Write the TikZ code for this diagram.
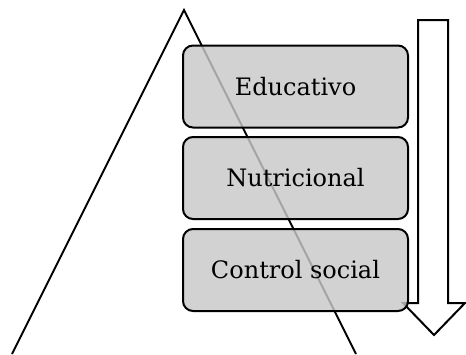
\documentclass[tikz,border=0pt]{standalone}
\usepackage{fontspec}
\setmainfont{DejaVu Serif}
\definecolor{boxgray}{RGB}{200,200,200}
\tikzset{
  levelbox/.style={draw=black, line width=2pt, fill=boxgray, fill opacity=0.82, text opacity=1,
    rounded corners=10pt, minimum width=225pt, minimum height=82pt, inner sep=0pt,
    font=\fontsize{24}{28}\selectfont},
  edge/.style={line width=2pt, black},
}
\begin{document}
\begin{tikzpicture}[x=1pt,y=-1pt]
\useasboundingbox (0,0) rectangle (466,354);
\begin{scope}
\clip (0,0) rectangle (466,354);
\coordinate (apex) at (184,10);
\coordinate (bl) at (12,354);
\coordinate (br) at (356,354);
\draw[edge, line join=miter] (bl) -- (apex) -- (br);
\end{scope}
\draw[edge, fill=white, line join=miter] (418,20) -- (448,20) -- (448,303) -- (465,303) -- (434,335) -- (403,303) -- (418,303) -- cycle;
\node[levelbox] (edu) at (295.5,86.5) {Educativo};
\node[levelbox] (nut) at (295.5,178) {Nutricional};
\node[levelbox] (ctl) at (295.5,270) {Control social};
\end{tikzpicture}
\end{document}
